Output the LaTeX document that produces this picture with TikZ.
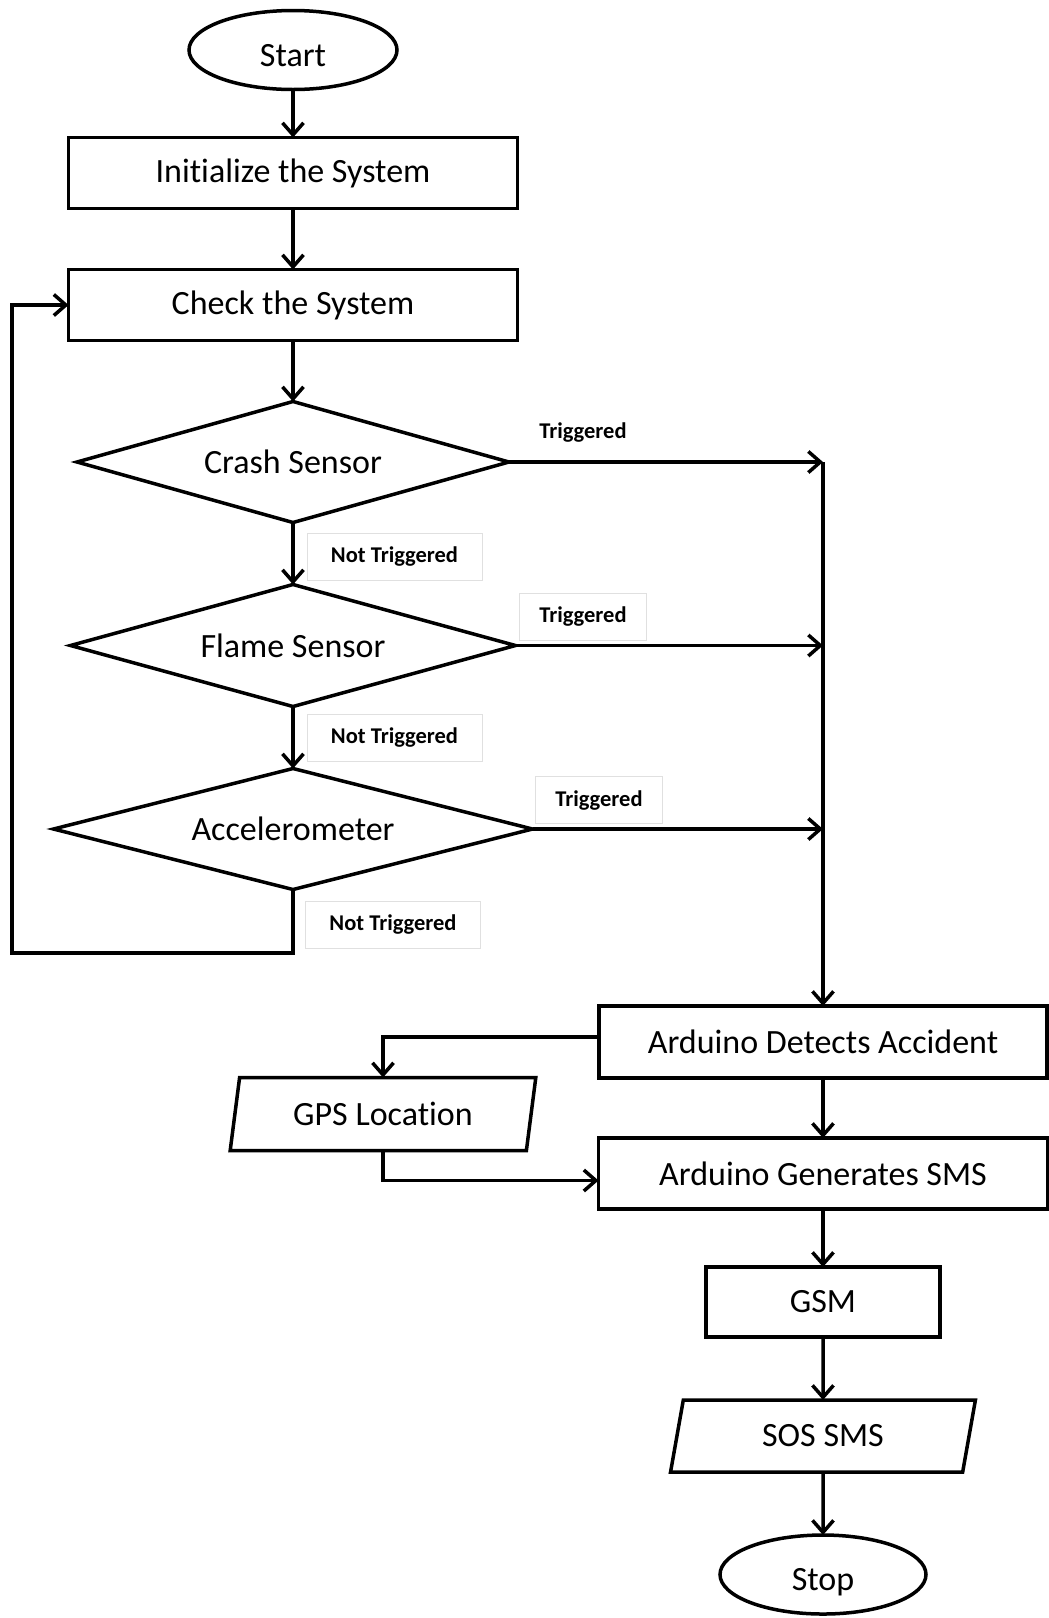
\documentclass[tikz,border=0pt]{standalone}
\usepackage{fontspec}
\setmainfont{Carlito}[Ligatures=NoCommon]
\usetikzlibrary{positioning}
\usetikzlibrary{arrows.meta}
\usetikzlibrary{shapes.geometric}

\begin{document}
\begin{tikzpicture}
[
x=1pt, y=-1pt,
% 文字と余白の設定
every node/.style={font=\fontsize{34}{40}\selectfont, outer sep=0, inner sep=0},
% 矢印の設定
arrow/.style={-{Straight Barb[length=12pt, width=21pt]}, line width=3.5pt},
% 処理
block/.style={rectangle, draw, line width=3.5pt, minimum width=449pt, minimum height=71pt},
% 端子
term/.style={ellipse, draw, line width=3.5pt, minimum width=208pt, minimum height=79pt,
text height=32pt, text depth=0pt},
% 判断
decision/.style={diamond, draw, line width=3.5pt, aspect=4, minimum height=121pt},
% 入出力
io/.style={trapezium, trapezium left angle=76, trapezium right angle=104,
trapezium stretches=true, draw, line width=3.5pt, minimum height=72pt},
% 分岐のラベル
lbl/.style={draw=black!12, line width=0.8pt, font=\fontsize{22.5}{27}\selectfont\bfseries,
minimum height=47pt}
]
\useasboundingbox (0,0) rectangle (1049,1618);

% ブロックの配置
\node [term] at (293,50) (start) {Start};
\node [block, below=48pt of start] (init) {Initialize the System};
\node [block, below=61pt of init] (check) {Check the System};
\node [decision, minimum width=432pt, below=61pt of check] (crash) {Crash Sensor};
\node [decision, minimum width=445pt, minimum height=122pt, below=62pt of crash] (flame) {Flame Sensor};
\node [decision, minimum width=479pt, below=62pt of flame] (accel) {Accelerometer};
\node [block, minimum width=448pt, minimum height=72pt] at (823,1042) (detect) {Arduino Detects Accident};
\node [io, minimum width=306pt, minimum height=73pt] at (383,1114) (gps) {GPS Location};
\node [block, below=60pt of detect] (gen) {Arduino Generates SMS};
\node [block, minimum width=234pt, minimum height=70pt, below=58pt of gen] (gsm) {GSM};
\node [io, minimum width=305pt, below=63pt of gsm] (sos) {SOS SMS};
\node [term, minimum width=206pt, below=63pt of sos] (stop) {Stop};

% ラベル
\node [lbl, draw=none, minimum width=127pt] at (583,433) (t1) {Triggered};
\node [lbl, minimum width=127pt] at (583,617) (t2) {Triggered};
\node [lbl, minimum width=127pt] at (599,800) (t3) {Triggered};
\node [lbl, minimum width=175pt] at (394.5,557) (nt1) {Not Triggered};
\node [lbl, minimum width=175pt] at (394.5,737.5) (nt2) {Not Triggered};
\node [lbl, minimum width=175pt] at (393,924.5) (nt3) {Not Triggered};

% ブロックの接続
\draw [arrow] (start) -- (init);
\draw [arrow] (init) -- (check);
\draw [arrow] (check) -- (crash);
\draw [arrow] (crash) -- (flame);
\draw [arrow] (flame) -- (accel);
\coordinate (c1) at (crash -| detect);
\draw [arrow] (crash.east) -- (c1);
\draw [arrow] (flame.east) -- (flame -| detect);
\draw [arrow] (accel.east) -- (accel -| detect);
\draw [arrow] (c1) -- (detect);
\coordinate (back) at (12,953);
\draw [arrow] (accel.south) |- (back) |- (check.west);
\draw [arrow] ([yshift=5pt]detect.west) -| (gps.north);
\draw [arrow] (gps.south) |- ([yshift=-7pt]gen.west);
\draw [arrow] (detect) -- (gen);
\draw [arrow] (gen) -- (gsm);
\draw [arrow] (gsm) -- (sos);
\draw [arrow] (sos) -- (stop);
\end{tikzpicture}
\end{document}
